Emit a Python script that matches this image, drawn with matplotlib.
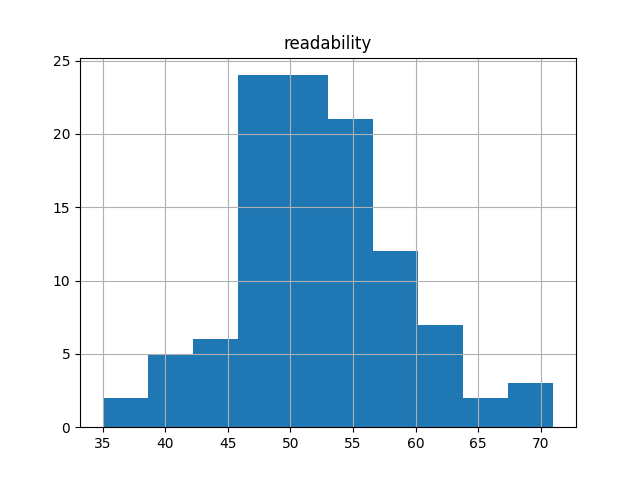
import matplotlib
matplotlib.use("Agg")
import matplotlib.pyplot as plt
import numpy as np

# histogram of readability scores, 10 bins
bin_edges = [35.0, 38.6, 42.2, 45.8, 49.4, 53.0, 56.6, 60.2, 63.8, 67.4, 71.0]
counts = [2, 5, 6, 24, 24, 21, 12, 7, 2, 3]

edges = np.array(bin_edges)
centers = (edges[:-1] + edges[1:]) / 2

fig, ax = plt.subplots(figsize=(6.4, 4.8), dpi=100)
ax.hist(centers, bins=edges, weights=counts, color="#1f77b4")
ax.set_title("readability")
ax.grid(True)

fig.savefig("out.png")
